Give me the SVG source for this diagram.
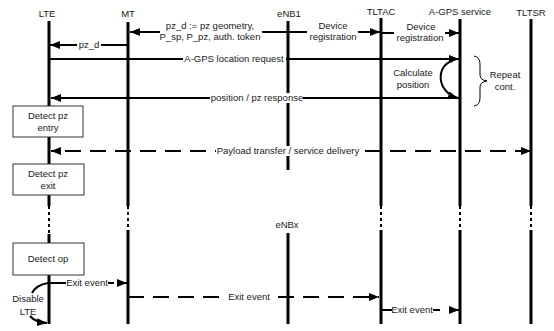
<svg xmlns="http://www.w3.org/2000/svg" width="554" height="331" viewBox="0 0 554 331">
<style>
text{font-family:"Liberation Sans",Arial,sans-serif;font-size:9.5px;fill:#1a1a1a;text-anchor:middle}
.ll{stroke:#000;stroke-width:3;fill:none}
.dot{stroke:#000;stroke-width:2;stroke-dasharray:3 3;fill:none}
.m{stroke:#000;stroke-width:2;fill:none}
.d{stroke:#000;stroke-width:2;fill:none;stroke-dasharray:16 9}
.box{fill:#fff;stroke:#333;stroke-width:1}
.bg{fill:#fff}
</style>
<defs>
<marker id="ah" viewBox="0 0 10 8" refX="10" refY="4" markerWidth="10" markerHeight="8" markerUnits="userSpaceOnUse" orient="auto"><path d="M0,0 L10,4 L0,8 z" fill="#000"/></marker>
</defs>
<rect width="554" height="331" fill="#fff"/>
<g id="lifelines">
<g id="LTE"><text x="47" y="17">LTE</text><line class="ll" x1="49" y1="21" x2="49" y2="206"/><line class="dot" x1="49" y1="206" x2="49" y2="234"/><line class="ll" x1="49" y1="234" x2="49" y2="324"/></g>
<g id="MT"><text x="128" y="17">MT</text><line class="ll" x1="128" y1="22" x2="128" y2="206"/><line class="dot" x1="128" y1="206" x2="128" y2="230"/><line class="ll" x1="128" y1="230" x2="128" y2="324"/></g>
<g id="eNB1"><text x="289" y="17">eNB1</text><line class="ll" x1="288" y1="21" x2="288" y2="170"/></g>
<g id="eNBx"><text x="287" y="228">eNBx</text><line class="ll" x1="288" y1="233" x2="288" y2="324"/></g>
<g id="TLTAC"><text x="381" y="15">TLTAC</text><line class="ll" x1="381" y1="18" x2="381" y2="206"/><line class="dot" x1="381" y1="206" x2="381" y2="230"/><line class="ll" x1="381" y1="230" x2="381" y2="324"/></g>
<g id="AGPS"><text x="460" y="15">A-GPS service</text><line class="ll" x1="460" y1="19" x2="460" y2="206"/><line class="dot" x1="460" y1="206" x2="460" y2="230"/><line class="ll" x1="460" y1="230" x2="460" y2="324"/></g>
<g id="TLTSR"><text x="531" y="16">TLTSR</text><line class="ll" x1="531" y1="19" x2="531" y2="206"/><line class="dot" x1="531" y1="206" x2="531" y2="230"/><line class="ll" x1="531" y1="230" x2="531" y2="324"/></g>
</g>
<g id="boxes">
<g id="detect-entry"><rect class="box" x="13" y="106" width="70" height="31"/><text x="48" y="119">Detect pz</text><text x="48" y="131">entry</text></g>
<g id="detect-exit"><rect class="box" x="13" y="164" width="71" height="31"/><text x="48" y="177">Detect pz</text><text x="48" y="189">exit</text></g>
<g id="detect-op"><rect class="box" x="13" y="243" width="71" height="32"/><text x="48" y="262">Detect op</text></g>
</g>
<g id="connectors">
<line class="m" x1="160" y1="32" x2="130" y2="32" marker-end="url(#ah)"/>
<line class="m" x1="288" y1="32" x2="262" y2="32"/>
<line class="m" x1="288" y1="32" x2="307" y2="32"/>
<line class="m" x1="358" y1="32" x2="380" y2="32" marker-end="url(#ah)"/>
<line class="m" x1="381" y1="33" x2="394" y2="33"/>
<line class="m" x1="445" y1="33" x2="459" y2="33" marker-end="url(#ah)"/>
<line class="m" x1="128" y1="45" x2="50" y2="45" marker-end="url(#ah)"/>
<line class="m" x1="49" y1="59" x2="459" y2="59" marker-end="url(#ah)"/>
<path class="m" d="M452,61 C436,66 436,92 458,98" marker-end="url(#ah)"/>
<line class="m" x1="460" y1="98" x2="51" y2="98" marker-end="url(#ah)"/>
<path d="M474,56 Q480,57 480,64 L480,75 Q480,80 487,81 Q480,82 480,87 L480,98 Q480,105 474,106" fill="none" stroke="#000" stroke-width="1"/>
<line class="d" x1="531" y1="151" x2="51" y2="151" marker-end="url(#ah)"/>
<path d="M521,147 L531,151 L521,155 z" fill="#000"/>
<line class="m" x1="49" y1="283" x2="66" y2="283"/>
<line class="m" x1="108" y1="283" x2="114" y2="283"/>
<line class="m" x1="117" y1="283" x2="127" y2="283" marker-end="url(#ah)"/>
<line class="d" x1="128" y1="297" x2="379" y2="297" marker-end="url(#ah)"/>
<line class="m" x1="381" y1="310" x2="392" y2="310"/>
<line class="m" x1="433" y1="310" x2="440" y2="310"/>
<line class="m" x1="449" y1="310" x2="459" y2="310" marker-end="url(#ah)"/>
<path class="m" d="M48,283 Q36,285 32,293"/>
<path class="m" d="M30,316 Q35,322 47,323" marker-end="url(#ah)"/>
<g fill="#000"><circle cx="128" cy="59" r="1.8"/><circle cx="288" cy="59" r="1.8"/><circle cx="381" cy="59" r="1.8"/><circle cx="128" cy="98" r="1.8"/><circle cx="381" cy="98" r="1.8"/></g>
</g>
<g id="labels">
<text x="210" y="29">pz_d := pz geometry,</text>
<text x="210" y="40">P_sp, P_pz, auth. token</text>
<text x="333" y="29">Device</text>
<text x="333" y="40">registration</text>
<text x="421" y="30">Device</text>
<text x="420" y="41">registration</text>
<rect class="bg" x="77" y="40" width="24" height="10"/><text x="89" y="48">pz_d</text>
<rect class="bg" x="183" y="54" width="103" height="10"/><text x="234" y="62">A-GPS location request</text>
<text x="413" y="76">Calculate</text>
<text x="413" y="88">position</text>
<text x="505" y="78">Repeat</text>
<text x="505" y="90">cont.</text>
<rect class="bg" x="210" y="93" width="93" height="10"/><text x="257" y="101">position / pz response</text>
<rect class="bg" x="216" y="146" width="145" height="10"/><text x="288" y="154">Payload transfer / service delivery</text>
<text x="87" y="286">Exit event</text>
<rect class="bg" x="226" y="292" width="46" height="10"/><text x="249" y="300">Exit event</text>
<text x="412" y="313">Exit event</text>
<text x="28" y="302">Disable</text>
<text x="28" y="315">LTE</text>
</g>
</svg>
